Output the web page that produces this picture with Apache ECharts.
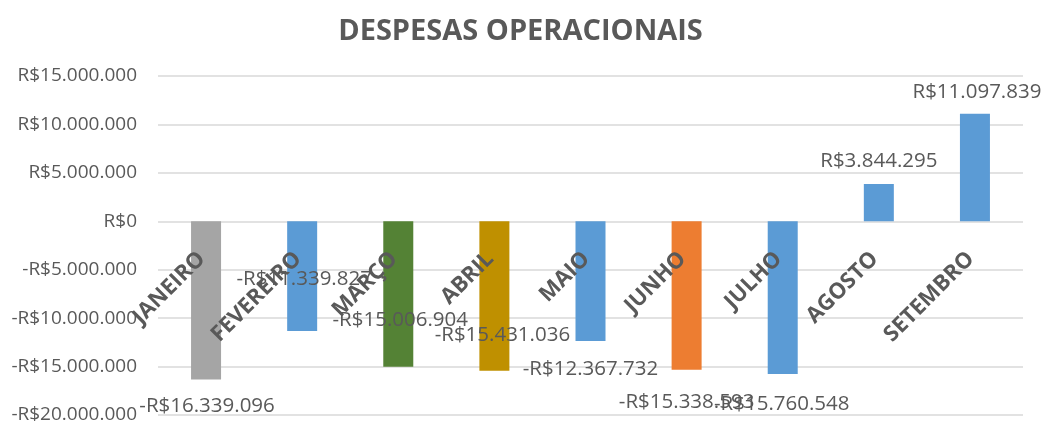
<!DOCTYPE html>
<html>
<head>
<meta charset="utf-8">
<style>
  html, body { margin: 0; padding: 0; background: #fff; }
  #chart { width: 1041px; height: 426px; }
</style>
<script src="https://cdn.jsdelivr.net/npm/echarts@6/dist/echarts.min.js"></script>
</head>
<body>
<div id="chart"></div>
<script>
var months = ["JANEIRO", "FEVEREIRO", "MARÇO", "ABRIL", "MAIO", "JUNHO", "JULHO", "AGOSTO", "SETEMBRO"];
var despesas = [-16339096, -11339827, -15006904, -15431036, -12367732, -15338593, -15760548, 3844295, 11097839];
var yTicks = [-20000000, -15000000, -10000000, -5000000, 0, 5000000, 10000000, 15000000];

// styling, kept apart from the values
var barColors = ["#A5A5A5", "#5B9BD5", "#548235", "#BF9000", "#5B9BD5", "#ED7D31", "#5B9BD5", "#5B9BD5", "#5B9BD5"];
var labelOffsets = [[1, 11], [2, -67], [2, -62], [8, -51], [0, 13], [0, 17], [-1, 15], [0, -7], [2, -6]];

function brl(v) {
  var s = Math.abs(v).toString().replace(/\B(?=(\d{3})+(?!\d))/g, ".");
  return (v < 0 ? "-" : "") + "R$" + s;
}

var chart = echarts.init(document.getElementById("chart"));
var textColor = "#595959";

// grid geometry: zero line sits 4/7 of the way up the plot
var gridTop = 76, gridBottom = 11, plotH = 426 - gridTop - gridBottom;
var zeroFromBottom = plotH * 4 / 7;

var option = {
  animation: false,
  title: {
    text: "DESPESAS OPERACIONAIS",
    left: "center",
    top: 12,
    textStyle: { fontFamily: "Open Sans", fontWeight: "bold", fontSize: 29, color: textColor }
  },
  grid: { left: 158, right: 18, top: gridTop, bottom: gridBottom, containLabel: false, outerBoundsMode: "none" },
  xAxis: {
    type: "category",
    data: months,
    axisLine: { show: false, onZero: false },
    axisTick: { show: false },
    axisLabel: {
      rotate: 45,
      margin: 30 - zeroFromBottom,
      padding: [0, 6, 0, 0],
      interval: 0,
      color: textColor,
      fontFamily: "Open Sans",
      fontWeight: "bold",
      fontSize: 22
    },
    z: 5
  },
  yAxis: {
    type: "value",
    min: yTicks[0],
    max: yTicks[yTicks.length - 1],
    interval: 5000000,
    axisLine: { show: false },
    axisTick: { show: false },
    splitLine: { lineStyle: { color: "#d9d9d9", width: 1.5 } },
    axisLabel: {
      margin: 21,
      color: textColor,
      fontFamily: "Open Sans",
      fontSize: 19,
      formatter: brl
    }
  },
  series: [{
    type: "bar",
    barWidth: 30,
    data: despesas.map(function (v, i) {
      return {
        value: v,
        itemStyle: { color: barColors[i] },
        label: { offset: labelOffsets[i] }
      };
    }),
    label: {
      show: true,
      position: "outside",
      distance: 5,
      color: textColor,
      fontFamily: "Open Sans",
      fontSize: 20.5,
      formatter: function (p) { return brl(p.value); }
    }
  }]
};

chart.setOption(option);
</script>
</body>
</html>
